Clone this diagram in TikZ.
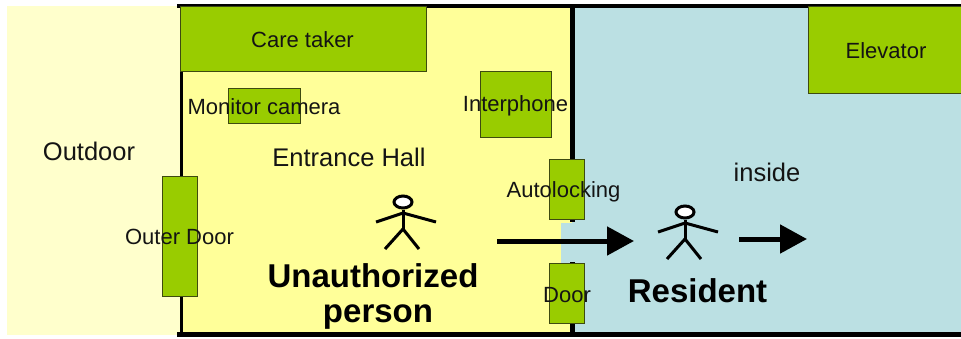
\documentclass[tikz,border=0pt]{standalone}
\usepackage{fontspec}
\setmainfont{Liberation Sans}
\usetikzlibrary{arrows.meta,shapes.geometric}
\definecolor{outc}{HTML}{FFFFCC}
\definecolor{hallc}{HTML}{FFFF99}
\definecolor{insc}{HTML}{BBE0E3}
\definecolor{boxc}{HTML}{99CC00}
\definecolor{edgec}{HTML}{3E4A10}
\tikzset{
  x=1pt,y=-1pt,
  region/.style={draw=none,inner sep=0pt,outer sep=0pt,anchor=north west},
  gbox/.style={fill=boxc,draw=edgec,line width=0.9pt,inner sep=0pt,outer sep=0pt,anchor=north west},
  wall/.style={line width=#1,black},
  lbl/.style={inner sep=0pt,font=\fontsize{22}{22}\selectfont,text=black!92},
  mid/.style={inner sep=0pt,font=\fontsize{25.5}{25.5}\selectfont,text=black!92},
  big/.style={inner sep=0pt,anchor=base,font=\fontsize{33}{33}\selectfont\bfseries,text=black},
  goarrow/.style={line width=5pt,-{Triangle[length=27pt,width=28pt]},black},
  stick/.style={line width=3pt,black},
}
\newcommand{\person}[3]{%
  \begin{scope}[shift={(#1,#2)}]
    \node[draw=black,line width=3pt,fill=white,ellipse,minimum width=18pt,minimum height=12pt,inner sep=0pt] (#3) at (0,0) {};
    \draw[stick] (#3.south) -- (0,27);
    \draw[stick] (-27,20) -- (0,11) -- (33,20);
    \draw[stick] (-18,47) -- (0,27) -- (16,47);
  \end{scope}}
\begin{document}
\begin{tikzpicture}
\useasboundingbox (0,0) rectangle (961,338);
\fill[white] (0,0) rectangle (961,338);
\node[region,fill=outc,minimum width=173pt,minimum height=329pt] (outdoor) at (7,6) {};
\node[region,fill=hallc,minimum width=392pt,minimum height=328pt] (hall) at (180,6) {};
\node[region,fill=insc,minimum width=389pt,minimum height=328pt] (inside) at (572,6) {};
\node[region,fill=insc,minimum width=12pt,minimum height=40pt] (gap) at (561,223) {};
% walls
\coordinate (tl) at (177,5.5); \coordinate (tr) at (961,5.5);
\coordinate (bl) at (177,334.5); \coordinate (br) at (961,334.5);
\draw[wall=4pt] (tl) -- (tr);
\draw[wall=5pt] (bl) -- (br);
\coordinate (lt) at (181,5); \coordinate (lb) at (181,335);
\draw[wall=3pt] (lt) -- (lb);
\coordinate (m1) at (572,4); \coordinate (m2) at (572,222);
\coordinate (m3) at (572,262); \coordinate (m4) at (572,337);
\draw[wall=5pt] (m1) -- (m2);
\draw[wall=5pt] (m3) -- (m4);
\draw[gray!70!insc,line width=0.8pt] (inside.north east) -- (inside.south east);
% boxes
\node[gbox,minimum width=246pt,minimum height=65pt] (care) at (180,6.5) {};
\node[gbox,minimum width=72pt,minimum height=35pt] (mon) at (228,88.5) {};
\node[gbox,minimum width=71pt,minimum height=66pt] (inter) at (480.5,71.5) {};
\node[gbox,minimum width=35pt,minimum height=60pt] (auto) at (549.5,159.5) {};
\node[gbox,minimum width=35pt,minimum height=60pt] (door) at (549.5,263.5) {};
\node[gbox,minimum width=35pt,minimum height=120pt] (outer) at (162.5,176) {};
\node[gbox,minimum width=153pt,minimum height=87pt] (elev) at (808.5,6.5) {};
% people
\person{403}{202}{headA}
\person{685}{212}{headB}
% arrows
\coordinate (a1s) at (497,241); \coordinate (a1e) at (634,241);
\coordinate (a2s) at (739,239); \coordinate (a2e) at (807,239);
\draw[goarrow] (a1s) -- (a1e);
\draw[goarrow] (a2s) -- (a2e);
% labels
\node[lbl] (tcare) at (302.5,39.5) {Care taker};
\node[lbl] (tmon) at (264,106.5) {Monitor camera};
\node[lbl] (tint) at (515.5,106) {Interphone};
\node[lbl] (tauto) at (563.5,191.5) {Autolocking};
\node[lbl] (tdoor) at (567,295) {Door};
\node[lbl] (touter) at (179.5,236.5) {Outer Door};
\node[lbl] (telev) at (886,50.5) {Elevator};
\node[mid] (toutd) at (89,151) {Outdoor};
\node[mid] (thall) at (349,157) {Entrance Hall};
\node[mid] (tins) at (767,172) {inside};
\node[big] (tun) at (373,287.5) {Unauthorized};
\node[big] (tper) at (378,322.5) {person};
\node[big] (tres) at (697.5,302) {Resident};
\end{tikzpicture}
\end{document}
